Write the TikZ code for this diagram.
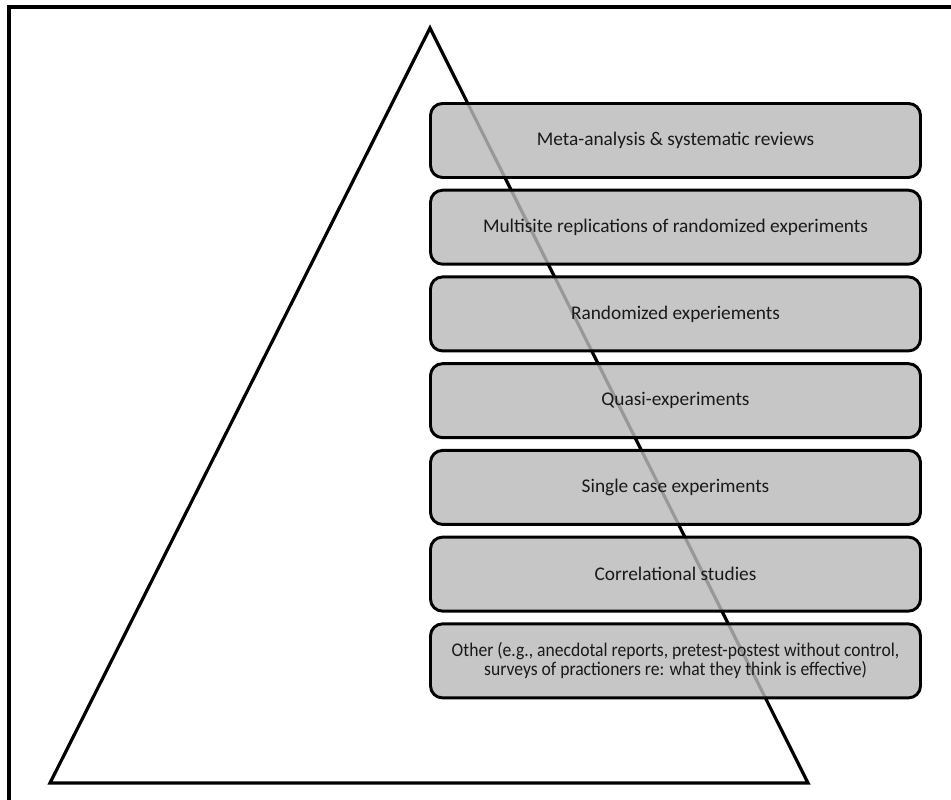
\documentclass[tikz,border=0pt]{standalone}
\usepackage{fontspec}
\setmainfont{Carlito}
\newfontfamily\narrowfont[FakeStretch=0.91]{Carlito}
\usepackage{tikz}
\usetikzlibrary{positioning}

\begin{document}
\begin{tikzpicture}[
  x=0.75pt, y=-0.75pt,
  node distance=7.35pt,
  level/.style={rectangle, draw, line width=2.2pt, rounded corners=9pt, fill=black!27, fill opacity=0.82, text opacity=1, text=black!90, minimum width=367.5pt, minimum height=55.5pt, align=center, font=\fontsize{14.5}{15.5}\selectfont},
  frame/.style={line width=2.4pt},
  pyramid/.style={line width=2.4pt, fill=white, line join=miter},
]
\useasboundingbox (0,0) rectangle (951,800);

% Frame (top and left edges only)
\coordinate (ftr) at (951,7);
\coordinate (ftl) at (9,7);
\coordinate (fbl) at (9,800);
\draw[frame] (ftr) -- (ftl) -- (fbl);

% Pyramid
\coordinate (apex) at (430,28);
\coordinate (bl) at (50,783);
\coordinate (br) at (808,783);
\draw[pyramid] (apex) -- (bl) -- (br) -- cycle;

% Levels of evidence, top to bottom
\node[level, anchor=north] (meta) at (675.5,102) {Meta-analysis \& systematic reviews};
\node[level, below=of meta] (multi) {Multisite replications of randomized experiments};
\node[level, below=of multi] (rand) {Randomized experiements};
\node[level, below=of rand] (quasi) {Quasi-experiments};
\node[level, below=of quasi] (single) {Single case experiments};
\node[level, below=of single] (correl) {Correlational studies};
\node[level, below=of correl, font=\narrowfont\fontsize{14.5}{12.8}\selectfont] (other) {Other (e.g., anecdotal reports, pretest-postest without control,\\surveys of practioners re: what they think is effective)};

\end{tikzpicture}
\end{document}
